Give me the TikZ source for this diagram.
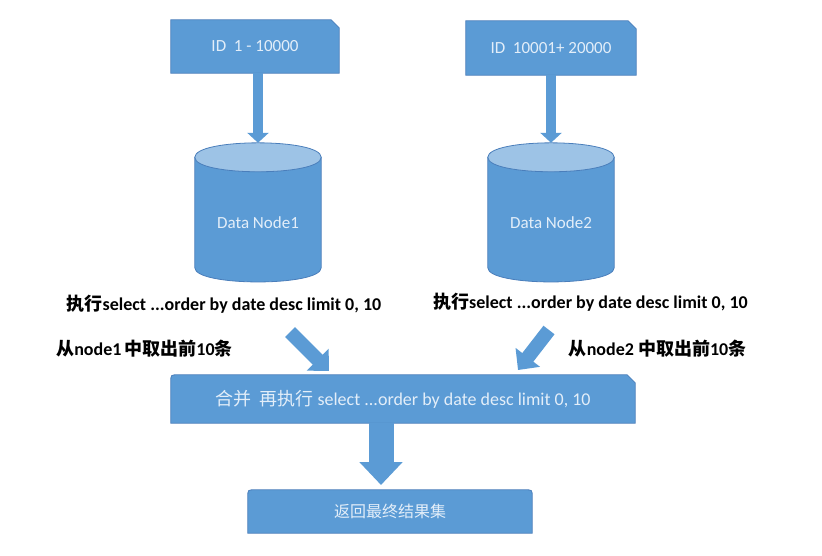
\documentclass[tikz,border=0pt]{standalone}
\usepackage{fontspec}
\setmainfont{Carlito}
\newfontfamily\cjk{Noto Sans CJK SC}
\usetikzlibrary{arrows.meta,backgrounds,calc}
\definecolor{bfill}{HTML}{5B9BD5}
\definecolor{bline}{HTML}{4A7EBB}
\definecolor{btop}{HTML}{9DC3E6}
\definecolor{btext}{HTML}{E3EEF9}
\newcommand{\zh}[1]{{\cjk #1}}
\begin{document}
\begin{tikzpicture}[x=1pt,y=-1pt,
  shapefill/.style={fill=bfill, draw=bline, line width=0.8pt},
  topfill/.style={fill=btop, draw=bline, line width=0.8pt},
  boxtext/.style={text=btext, inner sep=0pt, font=\fontsize{17}{20}\selectfont},
  labeltext/.style={text=black, inner sep=0pt, font=\bfseries\fontsize{18}{22}\selectfont},
  thinarrow/.style={draw=bfill, line width=10pt, -{Triangle[length=10pt,width=21pt]}},
  diagarrow/.style={draw=bfill, line width=14pt, -{Triangle[length=16pt,width=30pt]}},
  bigarrow/.style={draw=bfill, line width=25pt, -{Triangle[length=23pt,width=42pt]}}
]
\useasboundingbox (0,0) rectangle (822,555);

% top boxes
\node[boxtext, minimum width=168pt, minimum height=53pt] (b1) at (255,46.5) {ID\ \ 1 - 10000};
\node[boxtext, minimum width=170pt, minimum height=54pt] (b2) at (551,48) {ID\ \ 10001+ 20000};

% cylinders
\node[boxtext, minimum width=126pt, minimum height=139pt, text height=31pt, text depth=0pt] (n1) at (258,212.5) {Data Node1};
\node[boxtext, minimum width=126pt, minimum height=139pt, text height=31pt, text depth=0pt] (n2) at (551,212.5) {Data Node2};

% merge and result boxes
\node[boxtext, font=\fontsize{18}{22}\selectfont, minimum width=464pt, minimum height=48pt] (m) at (403,399)
  {\zh{合并}\ \ \zh{再执行} select ...order by date desc limit 0, 10};
\node[boxtext, font=\fontsize{16}{20}\selectfont, minimum width=284pt, minimum height=43pt] (f) at (390,511.5)
  {\zh{返回最终结果集}};

% labels
\node[labeltext] (l1) at (224,304) {\zh{执行}select ...order by date desc limit 0, 10};
\node[labeltext] (l2) at (590.5,302) {\zh{执行}select ...order by date desc limit 0, 10};
\node[labeltext] (t1) at (144.5,349) {\zh{从}node1\,\zh{中取出前}10\zh{条}};
\node[labeltext] (t2) at (657.5,349) {\zh{从}node2 \zh{中取出前}10\zh{条}};

\begin{scope}[on background layer]
  % box 1 and 2 with snipped corner
  \filldraw[shapefill] (b1.south west) -- (b1.north west) -- ([xshift=-8pt]b1.north east)
     -- ([yshift=-8pt]b1.north east) -- (b1.south east) -- cycle;
  \filldraw[shapefill] (b2.south west) -- (b2.north west) -- ([xshift=-8pt]b2.north east)
     -- ([yshift=-8pt]b2.north east) -- (b2.south east) -- cycle;
  % cylinders
  \foreach \n in {n1,n2}{
    \filldraw[shapefill] ([yshift=-14.5pt]\n.north west) -- ([yshift=14.5pt]\n.south west)
      .. controls ([yshift=-4.5pt]\n.south west) and ([yshift=-4.5pt]\n.south east) .. ([yshift=14.5pt]\n.south east)
      -- ([yshift=-14.5pt]\n.north east) -- cycle;
    \filldraw[topfill] ([yshift=-14.5pt]\n.north west)
      .. controls ([yshift=4.8pt]\n.north west) and ([yshift=4.8pt]\n.north east) .. ([yshift=-14.5pt]\n.north east)
      .. controls ([yshift=-33.8pt]\n.north east) and ([yshift=-33.8pt]\n.north west) .. cycle;
  }
  % merge box: rounded top-left, snipped top-right
  \filldraw[shapefill] (m.south west) -- ([yshift=-7pt]m.north west)
     .. controls (m.north west) .. ([xshift=7pt]m.north west)
     -- ([xshift=-8pt]m.north east) -- ([yshift=-8pt]m.north east) -- (m.south east) -- cycle;
  % result box: rounded top corners
  \filldraw[shapefill] (f.south west) -- ([yshift=-7pt]f.north west)
     .. controls (f.north west) .. ([xshift=7pt]f.north west)
     -- ([xshift=-7pt]f.north east) .. controls (f.north east) .. ([yshift=-7pt]f.north east)
     -- (f.south east) -- cycle;
\end{scope}

% arrows
\draw[thinarrow] (b1.south -| n1.north) -- (n1.north);
\draw[thinarrow] (b2.south -| n2.north) -- (n2.north);
\coordinate (a1s) at (290,332);
\coordinate (a1e) at (329,371);
\coordinate (a2s) at (549,330);
\coordinate (a2e) at (518,370);
\draw[diagarrow] (a1s) -- (a1e);
\draw[diagarrow] (a2s) -- (a2e);
\coordinate (a3e) at (381,485);
\draw[bigarrow] (m.south -| a3e) -- (a3e);
\end{tikzpicture}
\end{document}
